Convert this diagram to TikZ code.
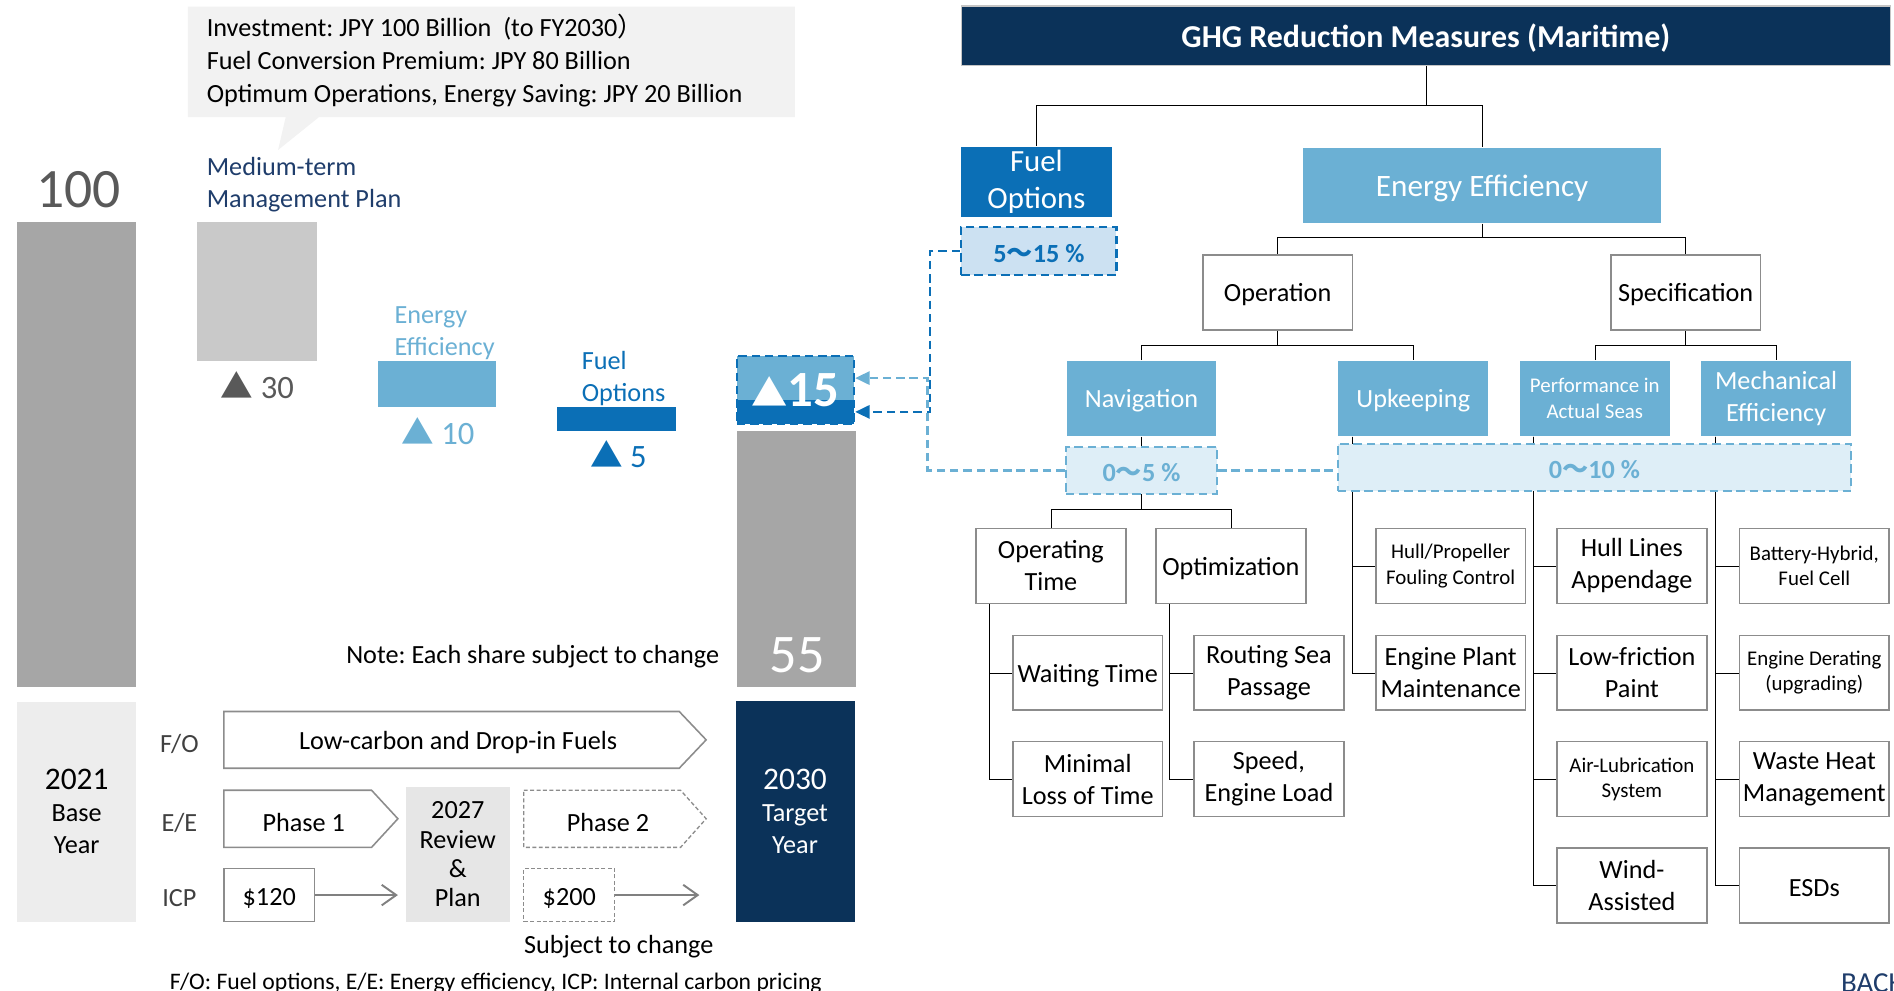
\documentclass[tikz,border=0pt]{standalone}
\usepackage{fontspec}
\setmainfont{Carlito}
\newfontfamily\cjk{Noto Sans CJK JP}
\usetikzlibrary{scopes,arrows.meta,backgrounds}
\frenchspacing

\definecolor{navy}{HTML}{0B3259}
\definecolor{fblue}{HTML}{0B6FB6}
\definecolor{lblue}{HTML}{6BB0D4}
\definecolor{pfill}{HTML}{CCE1F2}
\definecolor{lfill}{HTML}{DEEEF7}
\definecolor{bargray}{HTML}{A6A6A6}
\definecolor{midgray}{HTML}{C9C9C9}
\definecolor{boxgray}{HTML}{EDEDED}
\definecolor{revgray}{HTML}{E6E6E6}
\definecolor{callgray}{HTML}{F2F2F2}
\definecolor{txtgray}{HTML}{595959}
\definecolor{linegray}{HTML}{8C8C8C}
\definecolor{mtblue}{HTML}{1F3D6B}

\newcommand\tri{{\cjk ▲}}
\newcommand\wave{{\cjk ～}}
\newcommand\fs[2]{\fontsize{#1}{#2}\selectfont}

\tikzset{
  big/.style={inner sep=0pt, align=center},
  txt/.style={big, font=\fs{21.7}{26.5}, execute at begin node={\rule{0pt}{0.88em}}},
  conn/.style={draw=linegray, line width=1.2pt},
  treebox/.style={txt, draw=linegray, line width=1.3pt, fill=white,
    minimum width=124pt, minimum height=62pt},
  lbox/.style={treebox, draw=none, fill=lblue, text=white},
  leafsm/.style={font=\fs{17.3}{21}},
  pct/.style={txt, font=\bfseries\fs{21.7}{26}, dash pattern=on 7pt off 4pt,
    line width=2pt, minimum height=39pt},
  ldash/.style={dash pattern=on 7pt off 4pt, line width=2pt},
  phase/.style={draw=linegray, line width=1.3pt},
  later/.style={dash pattern=on 3.3pt off 2pt, line width=1.1pt},
  icparrow/.style={draw=gray, line width=1.8pt, -{Straight Barb[length=12pt,width=17pt,line width=1.6pt]}}
}

\begin{document}
\begin{tikzpicture}[x=1pt, y=-1pt]
\useasboundingbox (0,0) rectangle (1568,820);

% callout
\fill[callgray] (155.5,5.5) -- (658,5.5) -- (658,97) -- (264,97) -- (230.2,124.2)
  -- (236.5,97) -- (155.5,97) -- cycle;
\node[txt, anchor=west, align=left, font=\fs{21.7}{27.2}] (invest) at (171,50.1)
  {Investment: JPY 100 Billion\ \ (to FY2030{\cjk ）}\\
   Fuel Conversion Premium: JPY 80 Billion\\
   Optimum Operations, Energy Saving: JPY 20 Billion};

% waterfall
\fill[bargray] (14,183.5) rectangle (113,569);
\fill[midgray] (163.5,183.5) rectangle (262.3,298.9);
\fill[lblue] (312.6,298.9) rectangle (411,337.2);
\fill[fblue] (460.8,337.2) rectangle (560,357);
\fill[lblue] (610,294.7) rectangle (707,331.2);
\fill[fblue] (610,331.2) rectangle (707,351);
\fill[bargray] (610,356.8) rectangle (708.7,569);

\node[big, text=txtgray, font=\fs{46}{46}] (hundred) at (65,157) {100};
\node[txt, anchor=west, align=left, text=mtblue] (mtp) at (171,152.7) {Medium-term\\Management Plan};
\node[big, text=txtgray, font=\fs{27}{27}] (d30) at (213,318.7) {\tri\ 30};
\node[txt, anchor=west, align=left, text=lblue] (eelab) at (326.5,276) {Energy\\Efficiency};
\node[big, text=lblue, font=\fs{27}{27}] (d10) at (362.5,357) {\tri\ 10};
\node[txt, anchor=west, align=left, text=fblue] (folab) at (481.5,313) {Fuel\\Options};
\node[big, text=fblue, font=\fs{27}{27}] (d5) at (512,376) {\tri\ 5};
\node[big, draw=fblue, ldash, minimum width=97pt, minimum height=56.3pt, text=white,
  font=\bfseries\fs{42}{42}] (cut) at (658.5,322.9) {{\fs{30}{30}\tri}15};
\node[big, text=white, font=\fs{45}{45}] (final) at (660,542.5) {55};
\node[txt, anchor=east] (note) at (595.5,541.9) {Note: Each share subject to change};

% roadmap
\node[txt, fill=boxgray, minimum width=99pt, minimum height=182pt,
  execute at begin node={\rule{0pt}{1.12em}}] (base) at (63.5,672)
  {{\fs{26}{30}2021}\\Base\\Year};
\node[txt, fill=navy, text=white, minimum width=98.5pt, minimum height=182.6pt,
  execute at begin node={\rule{0pt}{1.12em}}] (target) at (658.2,672)
  {{\fs{26}{30}2030}\\Target\\Year};
\node[big, fill=revgray, font=\fs{21.7}{24.3}, minimum width=86pt, minimum height=111.2pt] (rev) at (379,707.4)
  {2027\\Review\\\&\\Plan};

\node[txt, text=black!75] (rfo) at (148.5,613.5) {F/O};
\node[txt, text=black!75] (ree) at (148.5,679) {E/E};
\node[txt, text=black!75] (ricp) at (148.5,741) {ICP};

{ [phase]
  \draw (185.3,589) -- (562.3,589) -- (584.6,612.5) -- (562.3,636) -- (185.3,636) -- cycle;
  \draw (185.3,654.2) -- (307.6,654.2) -- (329.4,677.8) -- (307.6,701.5) -- (185.3,701.5) -- cycle;
  { [later]
    \draw (433.6,654.2) -- (563.4,654.2) -- (584.6,677.8) -- (563.4,701.5) -- (433.6,701.5) -- cycle;
  }
}
\node[txt] (lcf) at (379.3,612.5) {Low-carbon and Drop-in Fuels};
\node[txt] (ph1) at (251.5,679) {Phase 1};
\node[txt] (ph2) at (503.3,679) {Phase 2};

\node[txt, phase, minimum width=75.2pt, minimum height=44pt] (icpA) at (222.9,741) {\$120};
\node[txt, phase, later, minimum width=75.4pt, minimum height=44pt] (icpB) at (471.3,741) {\$200};
\coordinate (icpAend) at (329.4,741);
\coordinate (icpBend) at (579,741);
\draw[icparrow] (icpA.east) -- (icpAend);
\draw[icparrow] (icpB.east) -- (icpBend);

\node[txt] (subj) at (512.2,781.9) {Subject to change};
\node[big, anchor=base west, font=\fs{19.6}{22}] (abbr) at (140.5,819.5)
  {F/O: Fuel options, E/E: Energy efficiency, ICP: Internal carbon pricing};

% tree
\node[txt, fill=navy, draw=linegray!50, line width=1pt, minimum width=769pt, minimum height=49pt,
  text=white, font=\bfseries\fs{26.4}{30}] (title) at (1180.5,29.5) {GHG Reduction Measures (Maritime)};
\node[treebox, draw=none, fill=fblue, text=white, font=\fs{25.5}{30.4},
  minimum width=124.5pt, minimum height=57.7pt] (fuel) at (858,150.5) {Fuel\\Options};
\node[pct, draw=fblue, fill=pfill, text=fblue, minimum width=128.5pt, minimum height=40pt] (pfuel)
  at (860,207.7) {5\wave15 \%};
\node[lbox, font=\fs{25.8}{30}, minimum width=296pt] (ee) at (1227,153.5) {Energy Efficiency};
\node[treebox] (oper) at (1057.7,242) {Operation};
\node[treebox] (spec) at (1395.5,242) {Specification};
\node[lbox] (nav) at (945,329.8) {Navigation};
\node[lbox] (upk) at (1170,329.8) {Upkeeping};
\node[lbox, leafsm] (perf) at (1320.3,329.8) {Performance in\\Actual Seas};
\node[lbox] (mech) at (1470.4,329.8) {Mechanical\\Efficiency};
\node[pct, draw=lblue, fill=lfill, text=lblue, minimum width=125pt] (p05) at (945,389.4) {0\wave5 \%};
\node[pct, draw=lblue, fill=lfill, text=lblue, minimum width=425pt] (p010) at (1320,387) {0\wave10 \%};

\node[treebox] (optime) at (870,468.5) {Operating\\Time};
\node[treebox] (optim) at (1019,468.5) {Optimization};
\node[treebox] (wait) at (900.5,557) {Waiting Time};
\node[treebox] (route) at (1050.5,557) {Routing Sea\\Passage};
\node[treebox] (minimal) at (900.5,645) {Minimal\\Loss of Time};
\node[treebox] (speed) at (1050.5,645) {Speed,\\Engine Load};

\node[treebox, leafsm] (hull) at (1201,468.5) {Hull/Propeller\\Fouling Control};
\node[treebox] (engpl) at (1201,557) {Engine Plant\\Maintenance};
\node[treebox] (hlines) at (1351,468.5) {Hull Lines\\Appendage};
\node[treebox] (lowf) at (1351,557) {Low-friction\\Paint};
\node[treebox, leafsm] (airl) at (1351,645) {Air-Lubrication\\System};
\node[treebox] (wind) at (1351,733) {Wind-\\Assisted};
\node[treebox, leafsm] (batt) at (1502,468.5) {Battery-Hybrid,\\Fuel Cell};
\node[treebox, leafsm] (eder) at (1502,557) {Engine Derating\\(upgrading)};
\node[treebox] (waste) at (1502,645) {Waste Heat\\Management};
\node[treebox] (esd) at (1502,733) {ESDs};

\node[big, anchor=base west, text=mtblue, font=\fs{24}{26}] (back) at (1524,821.5) {BACK};

{ [on background layer, conn]
  \coordinate (bus1) at (0,87.5);
  \coordinate (bus2) at (0,196);
  \coordinate (bus3) at (0,285.6);
  \coordinate (bus4) at (0,421.5);
  \draw (title.south) -- (title.south |- bus1);
  \draw (fuel.north) -- (fuel.north |- bus1) -| (ee.north);
  \draw (ee.south) -- (ee.south |- bus2);
  \draw (oper.north) -- (oper.north |- bus2) -| (spec.north);
  \draw (oper.south) -- (oper.south |- bus3);
  \draw (nav.north) -- (nav.north |- bus3) -| (upk.north);
  \draw (spec.south) -- (spec.south |- bus3);
  \draw (perf.north) -- (perf.north |- bus3) -| (mech.north);
  \draw (nav.south) -- (nav.south |- bus4);
  \draw (optime.north) -- (optime.north |- bus4) -| (optim.north);
  \draw ([xshift=12pt]optime.south west) |- (wait.west);
  \draw ([xshift=12pt]optime.south west) |- (minimal.west);
  \draw ([xshift=12pt]optim.south west) |- (route.west);
  \draw ([xshift=12pt]optim.south west) |- (speed.west);
  \draw ([xshift=12pt]upk.south west) |- (hull.west);
  \draw ([xshift=12pt]upk.south west) |- (engpl.west);
  \draw ([xshift=12pt]perf.south west) |- (hlines.west);
  \draw ([xshift=12pt]perf.south west) |- (lowf.west);
  \draw ([xshift=12pt]perf.south west) |- (airl.west);
  \draw ([xshift=12pt]perf.south west) |- (wind.west);
  \draw ([xshift=12pt]mech.south west) |- (batt.west);
  \draw ([xshift=12pt]mech.south west) |- (eder.west);
  \draw ([xshift=12pt]mech.south west) |- (waste.west);
  \draw ([xshift=12pt]mech.south west) |- (esd.west);
}

% shares
\coordinate (lbend) at (768,313);
\coordinate (bbend) at (770,341);
{ [ldash]
  \draw[lblue] (p05.east) -- (p05.east -| p010.west);
  \draw[lblue, -{Triangle[length=12pt,width=11pt]}] (p05.west) -| (lbend) -- (lbend -| cut.east);
  \draw[fblue, -{Triangle[length=12pt,width=11pt]}] (pfuel.west) -| (bbend) -- (bbend -| cut.east);
}
\end{tikzpicture}
\end{document}
